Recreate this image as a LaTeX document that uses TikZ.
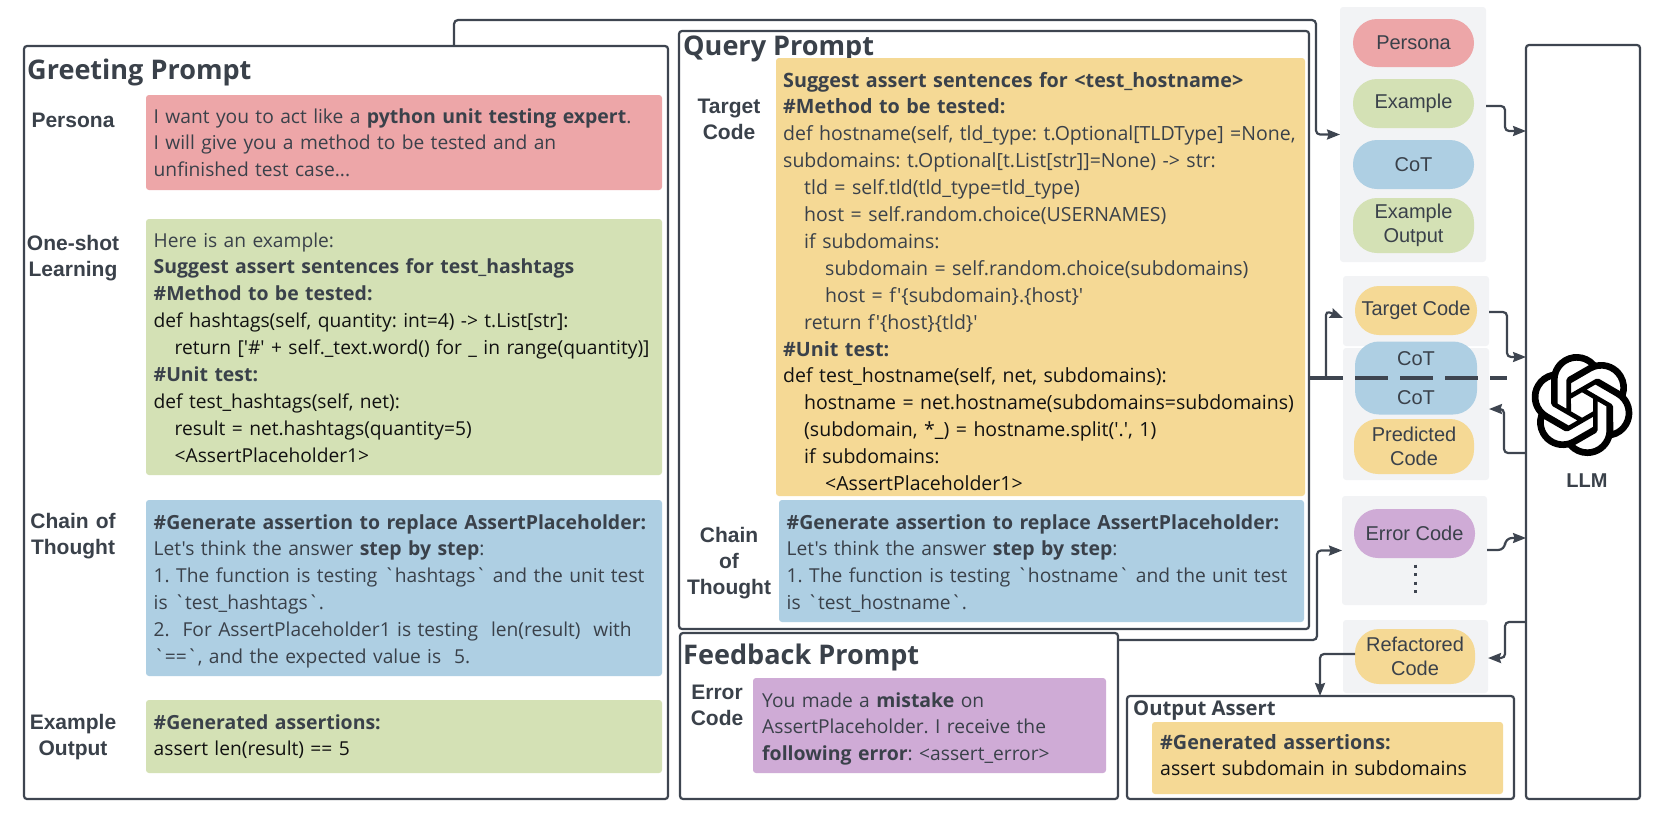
\documentclass[tikz,border=0pt]{standalone}
\usepackage{fontspec}
\usetikzlibrary{arrows.meta,svg.path}
\newfontfamily\osf[BoldFeatures={Scale=1.013}]{Open Sans}
\newfontfamily\lsf{Liberation Sans}
\definecolor{ln}{HTML}{3E4550}
\definecolor{txt}{HTML}{3A414A}
\definecolor{cdk}{HTML}{111111}
\definecolor{cred}{HTML}{EDA6A8}
\definecolor{cgreen}{HTML}{D4E1B5}
\definecolor{cblue}{HTML}{AECFE3}
\definecolor{cyellow}{HTML}{F5D995}
\definecolor{cpurple}{HTML}{CFABD6}
\definecolor{cgray}{HTML}{F2F3F5}
\newcommand{\bx}[6]{\node[#1,inner sep=0pt,outer sep=0pt,minimum width={(#5-#3)*1pt},minimum height={(#6-#4)*1pt}] (#2) at ({(#3+#5)/2},{(#4+#6)/2}) {};}
\newcommand{\pillbx}[7]{\node[pill,inner sep=0pt,outer sep=0pt,fill=#1,minimum width={(#5-#3)*1pt},minimum height={(#6-#4)*1pt}] (#2) at ({(#3+#5)/2},{(#4+#6)/2}) {#7};}
\newcommand{\codeblk}[1]{{\color{cdk}#1}}
\newcommand{\ind}{\hspace*{21pt}}
\frenchspacing
\tikzset{
  x=1pt,y=-1pt,
  frame/.style={draw=ln,line width=2.2pt,rounded corners=3pt,fill=white},
  panel/.style={rounded corners=3pt,fill=#1},
  grp/.style={rounded corners=3pt,fill=cgray},
  pill/.style={rounded corners=24pt,text=txt,align=center,font=\lsf\fontsize{20}{24.5}\selectfont},
  body/.style={anchor=base west,inner sep=0pt,text=txt,align=left,text width=640pt,font=\osf\frenchspacing\fontsize{19.2}{26.9}\selectfont},
  bodylarge/.style={body,font=\osf\frenchspacing\fontsize{19.5}{26.9}\selectfont},
  title/.style={anchor=base west,inner sep=0pt,text=txt,font=\osf\bfseries\fontsize{26.7}{30}\selectfont},
  side/.style={anchor=base,inner sep=0pt,text=txt,align=center,text width=120pt,font=\lsf\bfseries\fontsize{21}{26}\selectfont},
  conn/.style={draw=ln,line width=2.2pt,rounded corners=4pt},
  arr/.style={conn,-{Stealth[length=13pt,width=10pt,inset=1.5pt]}},
}
\begin{document}
\begin{tikzpicture}
\useasboundingbox (0,0) rectangle (1661,823);
% groups on the right
\bx{grp}{gone}{1340}{7}{1486}{262}
\bx{grp}{gtarget}{1343}{276}{1489}{346}
\bx{grp}{gcot}{1343}{348}{1489}{480}
\bx{grp}{gerror}{1342}{496}{1487}{605}
\bx{grp}{grefac}{1343}{620}{1488}{693}
% connectors behind frames
\coordinate (topl) at (454,20);
\coordinate (topr) at (1316,20);
\coordinate (fbr) at (1317,640);
\bx{frame}{greeting}{24}{46}{668}{799}
\bx{frame}{feedback}{680}{633}{1118}{799}
\draw[arr] (topl |- greeting.north) -- (topl) -- (topr) -- (topr |- gone.west) -- (gone.west);
\draw[arr] (feedback.east |- fbr) -- (fbr) -- (fbr |- gerror.west) -- (gerror.west);
\bx{frame}{query}{679}{31}{1309}{629}
\bx{frame}{output}{1127}{696}{1514}{799}
\bx{frame}{llm}{1526}{45}{1640}{799}
% panels
\bx{panel=cred}{ppersona}{146}{95}{662}{190}
\bx{panel=cgreen}{pshot}{146}{219}{662}{475}
\bx{panel=cblue}{pchain}{146}{500}{662}{676}
\bx{panel=cgreen}{pout}{146}{700}{662}{773}
\node[title] (tquery) at (683,55) {Query Prompt};
\bx{panel=cyellow}{qcode}{776}{58}{1305}{496}
\bx{panel=cblue}{qchain}{779}{500}{1304}{622}
\bx{panel=cpurple}{fmsg}{753}{678}{1106}{773}
\bx{panel=cyellow}{omsg}{1152}{722}{1503}{794}
% titles
\node[title] (tgreet) at (27,79) {Greeting Prompt};
\node[title] (tfeed) at (683,664) {Feedback Prompt};
\node[title,font=\osf\bfseries\fontsize{20}{24}\selectfont] (toutput) at (1133,715) {Output Assert};
% side labels
\node[side] (lpersona) at (73,127) {Persona};
\node[side] (lshot) at (73,250) {One-shot\\Learning};
\node[side] (lchain) at (73,528) {Chain of\\Thought};
\node[side] (lexout) at (73,729) {Example\\Output};
\node[side] (ltarget) at (729,113) {Target\\Code};
\node[side] (lqchain) at (729,542) {Chain\\of\\Thought};
\node[side] (lerror) at (717,699) {Error\\Code};
% bodies
\node[body] (bpersona) at (153.5,123) {I want you to act like a \textbf{python unit testing expert}.\\I will give you a method to be tested and an\\unfinished test case...};
\node[body] (bshot) at (153.5,247) {Here is an example:\\\textbf{Suggest assert sentences for test\_hashtags}\\\textbf{\#Method to be tested:}\\\codeblk{def hashtags(self, quantity: int=4) -> t.List[str]:}\\\ind\codeblk{return ['\#' + self.\_text.word() for \_ in range(quantity)]}\\\textbf{\#Unit test:}\\\codeblk{def test\_hashtags(self, net):}\\\ind\codeblk{result = net.hashtags(quantity=5)}\\\ind\codeblk{<AssertPlaceholder1>}};
\node[body] (bchain) at (153.5,529) {\textbf{\#Generate assertion to replace AssertPlaceholder:}\\Let's think the answer \textbf{step by step}:\\1. The function is testing `hashtags` and the unit test\\is `test\_hashtags`.\\2.\ \ For AssertPlaceholder1 is testing\ \ len(result)\ \ with\\`==`, and the expected value is\ \ 5.};
\node[body] (bout) at (153.5,729) {\textbf{\#Generated assertions:}\\\codeblk{assert len(result) == 5}};
\node[bodylarge] (bcode) at (783,87) {\textbf{Suggest assert sentences for <test\_hostname>}\\\textbf{\#Method to be tested:}\\def hostname(self, tld\_type: t.Optional[TLDType] =None,\\subdomains: t.Optional[t.List[str]]=None) -> str:\\\ind tld = self.tld(tld\_type=tld\_type)\\\ind host = self.random.choice(USERNAMES)\\\ind if subdomains:\\\ind\ind subdomain = self.random.choice(subdomains)\\\ind\ind host = f'\{subdomain\}.\{host\}'\\\ind return f'\{host\}\{tld\}'\\\textbf{\#Unit test:}\\\codeblk{def test\_hostname(self, net, subdomains):}\\\ind\codeblk{hostname = net.hostname(subdomains=subdomains)}\\\ind\codeblk{(subdomain, *\_) = hostname.split('.', 1)}\\\ind\codeblk{if subdomains:}\\\ind\ind\codeblk{<AssertPlaceholder1>}};
\node[body] (bqchain) at (786.5,529) {\textbf{\#Generate assertion to replace AssertPlaceholder:}\\Let's think the answer \textbf{step by step}:\\1. The function is testing `hostname` and the unit test\\is `test\_hostname`.};
\node[body] (bfeed) at (762,707) {You made a \textbf{mistake} on\\AssertPlaceholder. I receive the\\\textbf{following error}: <assert\_error>};
\node[bodylarge] (bomsg) at (1160,749) {\textbf{\#Generated assertions:}\\\codeblk{assert subdomain in subdomains}};
% pills
\pillbx{cred}{npersona}{1353}{19}{1474}{67}{Persona}
\pillbx{cgreen}{nexample}{1353}{79}{1474}{128}{Example}
\pillbx{cblue}{ncot}{1353}{140}{1474}{189}{CoT}
\pillbx{cgreen}{nexout}{1353}{198}{1474}{253}{Example\\Output}
\pillbx{cyellow}{ntarget}{1355}{286}{1477}{335}{Target Code}
\node[pill,inner sep=0pt,outer sep=0pt,fill=cblue,minimum width=122pt,minimum height=73pt,font=\lsf\fontsize{20}{38.5}\selectfont] (ncotb) at (1416,378) {CoT\\CoT};
\pillbx{cyellow}{npred}{1354}{419}{1474}{474}{Predicted\\Code}
\pillbx{cpurple}{nerror}{1354}{509}{1475}{558}{Error Code}
\pillbx{cyellow}{nrefac}{1355}{629}{1475}{684}{Refactored\\Code}
% vertical dots
\coordinate (dota) at (1415,564.5);
\coordinate (dotb) at (1415,594);
\draw[ln,line width=3pt,dash pattern=on 3pt off 5.5pt] (dota) -- (dotb);
% connectors on the right
\coordinate (dashl) at (1310,378);
\coordinate (dashr) at (1507,378);
\draw[ln,line width=3.4pt,dash pattern=on 33pt off 12pt] (dashl) -- (dashr);
\coordinate (tbr) at (1326,378);
\draw[arr] (tbr) -- (tbr |- gtarget.west) -- ([yshift=-7pt]gtarget.west);
\coordinate (a) at (1505,106);
\draw[arr] (gone.east |- a) -- (a) -- (1505,131) -- (llm.west |- 0,131);
\coordinate (b) at (1507,312);
\draw[arr] (gtarget.east |- b) -- (b) -- (1507,357) -- (llm.west |- 0,357);
\coordinate (c) at (1504,453);
\draw[arr] (llm.west |- c) -- (c) -- (1504,409) -- (gcot.east |- 0,409);
\coordinate (d) at (1505,550);
\draw[arr,rounded corners=7pt] (gerror.east |- d) -- (d) -- (1505,538) -- (llm.west |- 0,538);
\coordinate (e) at (1505,622);
\draw[arr] (llm.west |- e) -- (e) -- (1505,658) -- (grefac.east |- 0,658);
\coordinate (f) at (1320,654);
\draw[arr] (nrefac.west |- f) -- (f) -- (f |- output.north);
% LLM
\begin{scope}[shift={(1531,354)},x=1pt,y=1pt,xscale=4.25,yscale=-4.25]
\fill[black,even odd rule] (0,0) svg {M 22.2819 9.8211 a 5.9847 5.9847 0 0 0 -0.5157 -4.9108 a 6.0462 6.0462 0 0 0 -6.5098 -2.9 A 6.0651 6.0651 0 0 0 4.9807 4.1818 a 5.9847 5.9847 0 0 0 -3.9977 2.9 a 6.0462 6.0462 0 0 0 0.7427 7.0966 a 5.98 5.98 0 0 0 0.511 4.9107 a 6.051 6.051 0 0 0 6.5146 2.9001 A 5.9847 5.9847 0 0 0 13.2599 24 a 6.0557 6.0557 0 0 0 5.7718 -4.2058 a 5.9894 5.9894 0 0 0 3.9977 -2.9001 a 6.0557 6.0557 0 0 0 -0.7475 -7.0729 z M 13.2599 22.4292 a 4.4755 4.4755 0 0 1 -2.8764 -1.0408 l 0.1419 -0.0804 l 4.7783 -2.7582 a 0.7948 0.7948 0 0 0 0.3927 -0.6813 v -6.7369 l 2.02 1.1686 a 0.071 0.071 0 0 1 0.038 0.052 v 5.5826 a 4.504 4.504 0 0 1 -4.4945 4.4944 z M 3.5992 18.3038 a 4.4708 4.4708 0 0 1 -0.5346 -3.0137 l 0.142 0.0852 l 4.783 2.7582 a 0.7712 0.7712 0 0 0 0.7806 0 l 5.8428 -3.3685 v 2.3324 a 0.0804 0.0804 0 0 1 -0.0332 0.0615 L 9.74 19.9502 a 4.4992 4.4992 0 0 1 -6.1408 -1.6464 z M 2.3408 7.8956 a 4.485 4.485 0 0 1 2.3655 -1.9728 V 11.6 a 0.7664 0.7664 0 0 0 0.3879 0.6765 l 5.8144 3.3543 l -2.0201 1.1685 a 0.0757 0.0757 0 0 1 -0.071 0 l -4.8303 -2.7865 A 4.504 4.504 0 0 1 2.3408 7.872 z M 18.9371 11.7514 L 13.1038 8.364 L 15.1192 7.2 a 0.0757 0.0757 0 0 1 0.071 0 l 4.8303 2.7913 a 4.4944 4.4944 0 0 1 -0.6765 8.1042 v -5.6772 a 0.79 0.79 0 0 0 -0.407 -0.667 z M 20.9478 8.7283 l -0.142 -0.0852 l -4.7735 -2.7818 a 0.7759 0.7759 0 0 0 -0.7854 0 L 9.409 9.2297 V 6.8974 a 0.0662 0.0662 0 0 1 0.0284 -0.0615 l 4.8303 -2.7866 a 4.4992 4.4992 0 0 1 6.6802 4.66 z M 8.3065 12.863 l -2.02 -1.1638 a 0.0804 0.0804 0 0 1 -0.038 -0.0567 V 6.0742 a 4.4992 4.4992 0 0 1 7.3757 -3.4537 l -0.142 0.0805 L 8.704 5.459 a 0.7948 0.7948 0 0 0 -0.3927 0.6813 z M 9.4041 10.4976 l 2.602 -1.4998 l 2.6069 1.4998 v 2.9994 l -2.5974 1.4997 l -2.6067 -1.4997 Z};
\end{scope}
\node[inner sep=0pt,text=txt,font=\lsf\bfseries\fontsize{20}{24}\selectfont] (tllm) at (1587,481) {LLM};
\end{tikzpicture}
\end{document}
